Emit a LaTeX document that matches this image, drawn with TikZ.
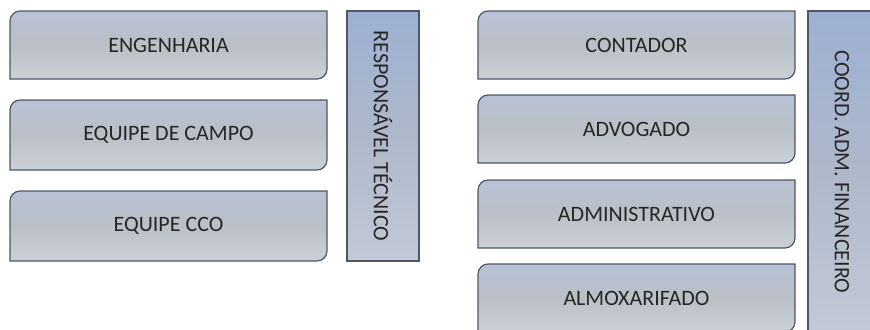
\documentclass[tikz,border=0pt]{standalone}
\usepackage{fontspec}
\setmainfont{Carlito}
\usepackage{tikz}
\definecolor{tabtop}{HTML}{B4C6E6}
\definecolor{tabmid}{HTML}{BBBFC6}
\definecolor{tabbot}{HTML}{DCE0E8}
\definecolor{sidetop}{HTML}{8CA8DB}
\definecolor{sidemid}{HTML}{AEB8CA}
\definecolor{sidebot}{HTML}{D6DBE4}
\definecolor{tabline}{HTML}{4D5766}
\pgfdeclareverticalshading{tabshade}{100bp}{color(0bp)=(tabbot); color(50bp)=(tabmid); color(100bp)=(tabtop)}
\pgfdeclareverticalshading{sideshade}{100bp}{color(0bp)=(sidebot); color(50bp)=(sidemid); color(100bp)=(sidetop)}
\tikzset{
	tab/.style={shade, shading=tabshade, draw=tabline, line width=0.9pt},
	side/.style={shade, shading=sideshade, draw=tabline, line width=0.9pt},
	tabtext/.style={text=black!85, font=\fontsize{16.5}{20}\selectfont},
}
\def\tabbox[#1](#2,#3)(#4,#5)#6{\path[tab] (#2,#5) -- (#2,#3+10) .. controls (#2,#3+4.5) and (#2+4.5,#3) .. (#2+10,#3) -- (#4,#3) -- (#4,#5-10) .. controls (#4,#5-4.5) and (#4-4.5,#5) .. (#4-10,#5) -- cycle;
	\node[tabtext] (#1) at ({(#2+#4)/2},{(#3+#5)/2}) {#6};}

\begin{document}
\begin{tikzpicture}[x=0.75pt, y=-0.75pt]
		%%%%% START %%%%%
		
		\useasboundingbox (0, 0) rectangle (870, 329);
		\clip (0, 0) rectangle (870, 329);
		
		\tabbox[eng](10, 11)(327, 79){ENGENHARIA}
		\tabbox[campo](10, 100)(327, 170){EQUIPE DE CAMPO}
		\tabbox[cco](10, 191)(327, 261){EQUIPE CCO}
		
		\path[side] (347, 11) rectangle (419, 261);
		\node[tabtext, rotate=-90] (resp) at (383, 136) {RESPONSÁVEL TÉCNICO};
		
		\tabbox[cont](478, 11)(795, 79){CONTADOR}
		\tabbox[adv](478, 95)(795, 163){ADVOGADO}
		\tabbox[adm](478, 180)(795, 248){ADMINISTRATIVO}
		\tabbox[almox](478, 264)(795, 332){ALMOXARIFADO}
		
		\path[side] (808, 11) rectangle (876, 334);
		\node[tabtext, rotate=-90] (coord) at (842, 172) {COORD. ADM. FINANCEIRO};
		
		%%%%% END %%%%%
	\end{tikzpicture}
\end{document}
